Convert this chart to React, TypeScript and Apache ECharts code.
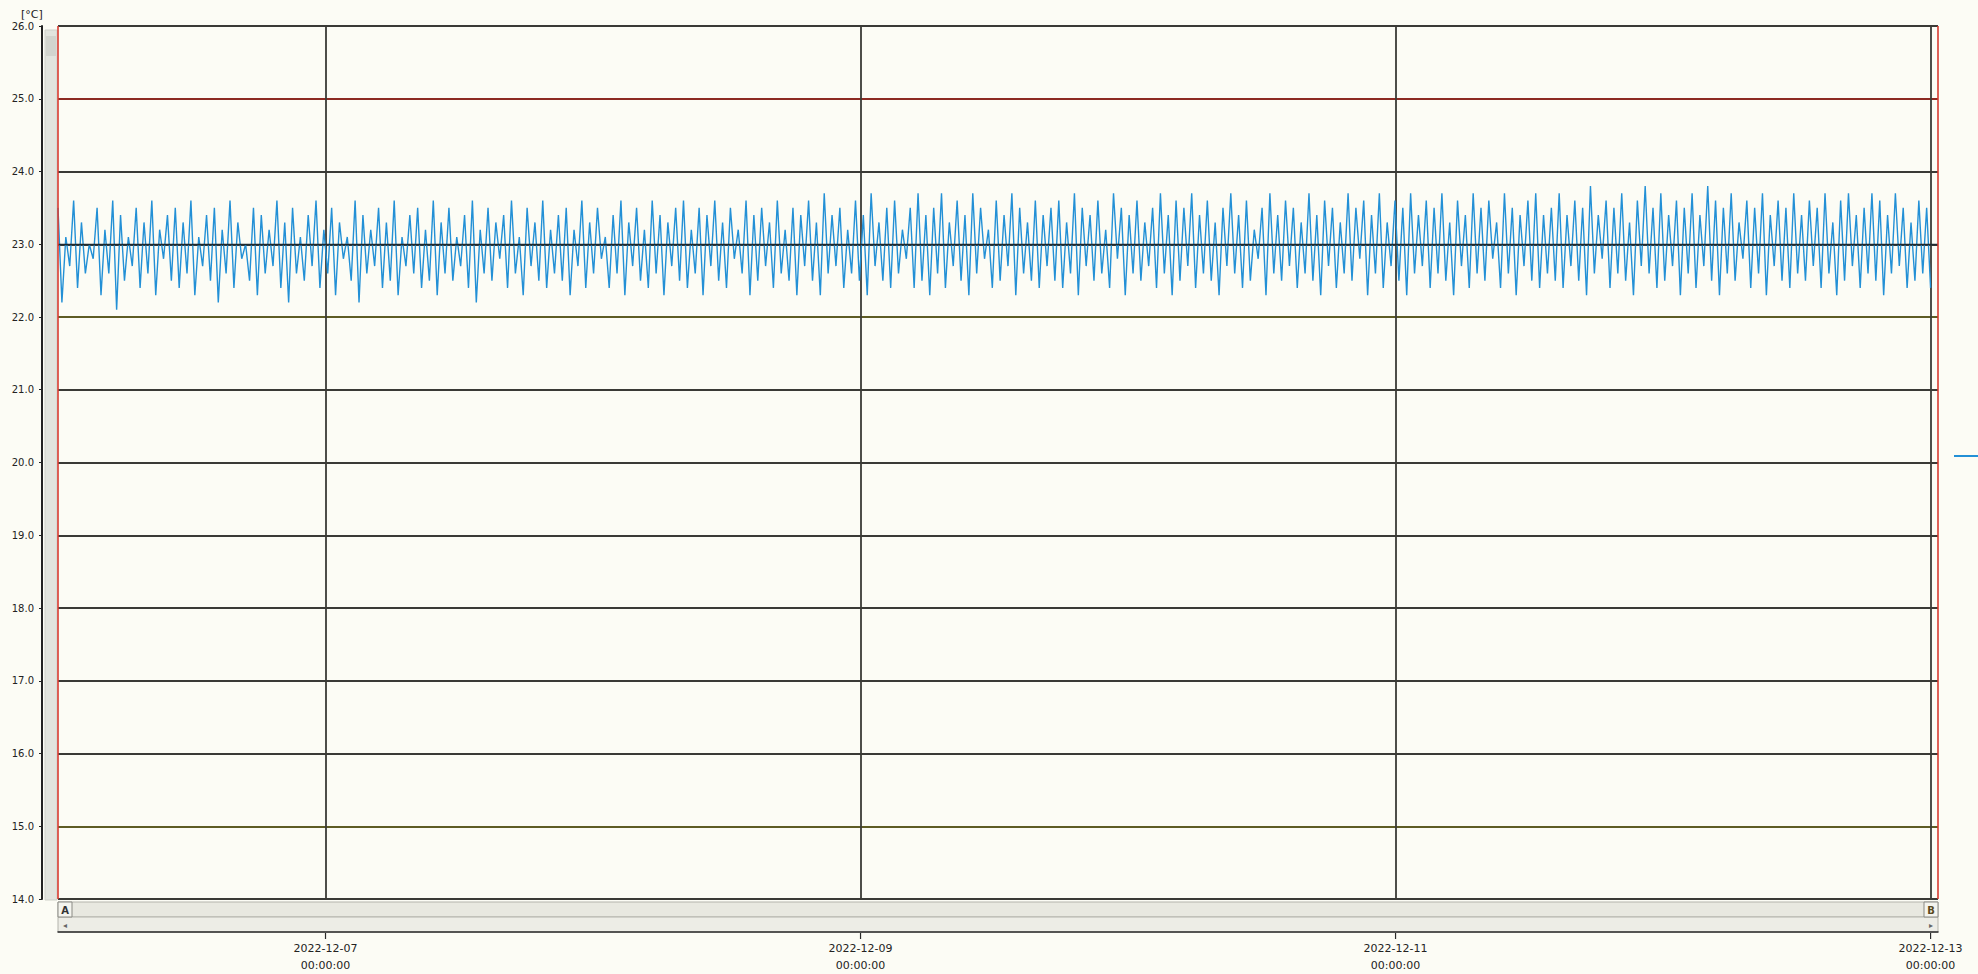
import React, { useEffect, useRef } from 'react';
import * as echarts from 'echarts';

// ---- data ----
const START = Date.UTC(2022, 11, 6, 0, 0, 0);
const AXIS_END = Date.UTC(2022, 11, 13, 0, 40, 0);
const DAY = 86400000;
const DATA_SPAN = 7 * DAY;
const labeledDays = ['2022-12-07', '2022-12-09', '2022-12-11', '2022-12-13'];
const yMin = 14;
const yMax = 26;
const unitLabel = '[°C]';
const seriesName = 'Temperature';

const highs = [
  23.5, 23.1, 23.6, 23.3, 23.0, 23.5, 23.2, 23.6, 23.4, 23.1, 23.5, 23.3, 23.6, 23.2, 23.4, 23.5,
  23.3, 23.6, 23.1, 23.4, 23.5, 23.2, 23.6, 23.3, 23.0, 23.5, 23.4, 23.2, 23.6, 23.3, 23.5, 23.1,
  23.4, 23.6, 23.2, 23.5, 23.3, 23.1, 23.6, 23.4, 23.2, 23.5, 23.3, 23.6, 23.1, 23.4, 23.5, 23.2,
  23.6, 23.3, 23.5, 23.1, 23.4, 23.6, 23.2, 23.5, 23.3, 23.4, 23.6, 23.1, 23.5, 23.3, 23.6, 23.2,
  23.4, 23.5, 23.2, 23.6, 23.3, 23.5, 23.1, 23.4, 23.6, 23.3, 23.5, 23.2, 23.6, 23.4, 23.3, 23.5,
  23.6, 23.2, 23.5, 23.4, 23.6, 23.3, 23.5, 23.2, 23.6, 23.4, 23.5, 23.3, 23.6, 23.2, 23.5, 23.4,
  23.6, 23.3, 23.7, 23.4, 23.5, 23.2, 23.6, 23.4, 23.7, 23.3, 23.5, 23.6, 23.2, 23.5, 23.7, 23.4,
  23.5, 23.7, 23.3, 23.6, 23.4, 23.7, 23.5, 23.2, 23.6, 23.4, 23.7, 23.5, 23.3, 23.6, 23.4, 23.5,
  23.6, 23.3, 23.7, 23.5, 23.4, 23.6, 23.2, 23.7, 23.5, 23.4, 23.6, 23.3, 23.5, 23.7, 23.4, 23.6,
  23.5, 23.7, 23.4, 23.6, 23.3, 23.5, 23.7, 23.4, 23.6, 23.2, 23.5, 23.7, 23.4, 23.6, 23.5, 23.3,
  23.7, 23.4, 23.6, 23.5, 23.3, 23.7, 23.5, 23.6, 23.4, 23.7, 23.3, 23.6, 23.5, 23.7, 23.4, 23.6,
  23.5, 23.7, 23.3, 23.6, 23.4, 23.7, 23.5, 23.6, 23.3, 23.7, 23.5, 23.4, 23.6, 23.7, 23.4, 23.5,
  23.7, 23.4, 23.6, 23.5, 23.8, 23.4, 23.6, 23.5, 23.7, 23.3, 23.6, 23.8, 23.5, 23.7, 23.4, 23.6,
  23.5, 23.7, 23.4, 23.8, 23.6, 23.5, 23.7, 23.3, 23.6, 23.5, 23.7, 23.4, 23.6, 23.5, 23.7, 23.4,
  23.6, 23.5, 23.7, 23.3, 23.6, 23.7, 23.4, 23.5, 23.7, 23.6, 23.4, 23.7, 23.5, 23.3, 23.6, 23.5,
];

const lows = [
  22.2, 22.7, 22.4, 22.6, 22.8, 22.3, 22.6, 22.1, 22.5, 22.7, 22.4, 22.6, 22.3, 22.8, 22.5, 22.4,
  22.6, 22.3, 22.7, 22.5, 22.2, 22.6, 22.4, 22.8, 22.5, 22.3, 22.6, 22.7, 22.4, 22.2, 22.6, 22.5,
  22.7, 22.4, 22.6, 22.3, 22.8, 22.5, 22.2, 22.6, 22.7, 22.4, 22.5, 22.3, 22.7, 22.6, 22.4, 22.5,
  22.3, 22.6, 22.5, 22.7, 22.4, 22.2, 22.6, 22.5, 22.8, 22.4, 22.6, 22.3, 22.7, 22.5, 22.4, 22.6,
  22.5, 22.3, 22.7, 22.4, 22.6, 22.8, 22.4, 22.6, 22.3, 22.7, 22.5, 22.4, 22.6, 22.3, 22.7, 22.5,
  22.4, 22.6, 22.3, 22.7, 22.5, 22.4, 22.8, 22.6, 22.3, 22.5, 22.7, 22.4, 22.6, 22.5, 22.3, 22.7,
  22.5, 22.3, 22.6, 22.7, 22.4, 22.6, 22.5, 22.3, 22.7, 22.5, 22.4, 22.6, 22.8, 22.4, 22.5, 22.3,
  22.6, 22.4, 22.7, 22.5, 22.3, 22.6, 22.8, 22.4, 22.5, 22.7, 22.3, 22.6, 22.5, 22.4, 22.7, 22.5,
  22.4, 22.6, 22.3, 22.7, 22.5, 22.6, 22.4, 22.8, 22.3, 22.6, 22.5, 22.7, 22.4, 22.6, 22.3, 22.5,
  22.7, 22.4, 22.6, 22.5, 22.3, 22.7, 22.6, 22.4, 22.5, 22.8, 22.3, 22.6, 22.5, 22.7, 22.4, 22.6,
  22.5, 22.3, 22.7, 22.4, 22.6, 22.5, 22.8, 22.3, 22.6, 22.4, 22.7, 22.5, 22.3, 22.6, 22.7, 22.4,
  22.6, 22.5, 22.3, 22.7, 22.4, 22.6, 22.5, 22.8, 22.4, 22.6, 22.3, 22.7, 22.5, 22.4, 22.6, 22.5,
  22.4, 22.7, 22.5, 22.3, 22.6, 22.8, 22.4, 22.6, 22.5, 22.3, 22.7, 22.6, 22.4, 22.5, 22.7, 22.3,
  22.6, 22.4, 22.7, 22.5, 22.3, 22.6, 22.5, 22.8, 22.4, 22.6, 22.3, 22.7, 22.5, 22.4, 22.6, 22.5,
  22.7, 22.4, 22.6, 22.3, 22.5, 22.7, 22.4, 22.6, 22.5, 22.3, 22.6, 22.7, 22.4, 22.5, 22.6, 22.4,
];

// ---- layout / style ----
const W = 1978;
const H = 974;
const G_LEFT = 58;
const G_RIGHT = 40;
const G_TOP = 26;
const G_BOTTOM = 74;
const BG = '#fcfcf5';
const GRID_DARK = '#3a3a36';
const GRID_OLIVE = '#5e5c24';
const GRID_RED = '#8c2a22';
const CURSOR_RED = '#d83a30';
const LINE_BLUE = '#2390d6';
const FONT = 'DejaVu Sans';

function dayLabel(v: number) {
  return new Date(v).toISOString().slice(0, 10);
}

export default function App() {
  const ref = useRef<HTMLDivElement>(null);

  useEffect(() => {
    document.body.style.margin = '0';
    document.body.style.background = BG;
    const chart = echarts.init(ref.current!, null, { renderer: 'svg' });

    const n = highs.length + lows.length;
    const step = DATA_SPAN / (n - 1);
    const data: [number, number][] = [];
    for (let i = 0; i < highs.length; i++) {
      data.push([START + 2 * i * step, highs[i]]);
      data.push([START + (2 * i + 1) * step, lows[i]]);
    }

    const ySplitColors: string[] = [];
    for (let v = yMin; v <= yMax; v++) {
      if (v === 25) ySplitColors.push(GRID_RED);
      else if (v === 22 || v === 15) ySplitColors.push(GRID_OLIVE);
      else ySplitColors.push(GRID_DARK);
    }

    const plotBottom = H - G_BOTTOM;
    const plotRight = W - G_RIGHT;
    const sbH = 33;

    const graphics: any[] = [
      // vertical scrollbar strip
      {
        type: 'rect',
        shape: { x: G_LEFT - 13, y: G_TOP + 4, width: 12, height: plotBottom - G_TOP - 4 },
        style: { fill: '#e2e4de', stroke: '#cfd1ca', lineWidth: 1 },
        silent: true,
      },
      {
        type: 'rect',
        shape: { x: G_LEFT - 12, y: G_TOP + 10, width: 10, height: 20 },
        style: { fill: '#d2d4ce' },
        silent: true,
      },
      // horizontal scrollbar
      {
        type: 'rect',
        shape: { x: G_LEFT, y: plotBottom + 2, width: plotRight - G_LEFT, height: 15 },
        style: { fill: '#e8e8e0', stroke: '#b4b4ac', lineWidth: 1 },
        silent: true,
      },
      {
        type: 'rect',
        shape: { x: G_LEFT, y: plotBottom + 17, width: plotRight - G_LEFT, height: 15 },
        style: { fill: '#ededE6', stroke: '#b4b4ac', lineWidth: 1 },
        silent: true,
      },
      {
        type: 'rect',
        shape: { x: G_LEFT, y: plotBottom + 2, width: 14, height: 15 },
        style: { fill: '#f4f4ee', stroke: '#8a8a84', lineWidth: 1 },
        silent: true,
      },
      {
        type: 'text',
        x: G_LEFT + 7, y: plotBottom + 10,
        style: { text: 'A', font: 'bold 10px ' + FONT, fill: '#333', align: 'center', verticalAlign: 'middle' },
        silent: true,
      },
      {
        type: 'text',
        x: G_LEFT + 7, y: plotBottom + 25,
        style: { text: '◂', font: '8px ' + FONT, fill: '#666', align: 'center', verticalAlign: 'middle' },
        silent: true,
      },
      {
        type: 'rect',
        shape: { x: plotRight - 14, y: plotBottom + 2, width: 14, height: 15 },
        style: { fill: '#f4f4ee', stroke: '#8a8a84', lineWidth: 1 },
        silent: true,
      },
      {
        type: 'text',
        x: plotRight - 7, y: plotBottom + 10,
        style: { text: 'B', font: 'bold 10px ' + FONT, fill: '#5a4a20', align: 'center', verticalAlign: 'middle' },
        silent: true,
      },
      {
        type: 'text',
        x: plotRight - 7, y: plotBottom + 25,
        style: { text: '▸', font: '8px ' + FONT, fill: '#666', align: 'center', verticalAlign: 'middle' },
        silent: true,
      },
      // unit label
      {
        type: 'text',
        x: 21, y: 14,
        style: { text: unitLabel, font: '11px ' + FONT, fill: '#222', verticalAlign: 'middle' },
        silent: true,
      },
      // series indicator at right
      {
        type: 'line',
        shape: { x1: W - 24, y1: 456, x2: W, y2: 456 },
        style: { stroke: LINE_BLUE, lineWidth: 2 },
        silent: true,
      },
    ];

    const option: any = {
      animation: false,
      backgroundColor: BG,
      grid: { left: G_LEFT, right: G_RIGHT, top: G_TOP, bottom: G_BOTTOM },
      xAxis: {
        type: 'value',
        min: START,
        max: AXIS_END,
        interval: DAY,
        offset: sbH,
        axisLine: { show: true, lineStyle: { color: '#2a2a2a', width: 1.5 } },
        axisTick: { show: false },
        axisLabel: {
          margin: 8,
          fontFamily: FONT,
          fontSize: 11,
          lineHeight: 17,
          color: '#222',
          formatter: (v: number) => {
            const d = dayLabel(v);
            return labeledDays.indexOf(d) >= 0 ? d + '\n00:00:00' : '';
          },
        },
        splitLine: {
          show: true,
          lineStyle: { color: ['rgba(0,0,0,0)', GRID_DARK], width: 1.8 },
        },
      },
      yAxis: {
        type: 'value',
        min: yMin,
        max: yMax,
        interval: 1,
        offset: 16,
        axisLine: { show: true, lineStyle: { color: '#222', width: 2 } },
        axisTick: { show: true, length: 3, lineStyle: { color: '#222' } },
        axisLabel: {
          margin: 8,
          fontFamily: FONT,
          fontSize: 10,
          color: '#222',
          formatter: (v: number) => v.toFixed(1),
        },
        splitLine: { show: true, lineStyle: { color: ySplitColors, width: 1.8 } },
      },
      series: [
        {
          name: seriesName,
          type: 'line',
          data,
          showSymbol: false,
          symbol: 'none',
          lineStyle: { color: LINE_BLUE, width: 1.4 },
          z: 2,
          markLine: {
            silent: true,
            symbol: 'none',
            label: { show: false },
            data: [
              { yAxis: 23, lineStyle: { color: '#1e2a30', width: 1.4, type: 'solid' } },
              { xAxis: START, lineStyle: { color: CURSOR_RED, width: 1.6, type: 'solid' } },
              { xAxis: AXIS_END - 60000, lineStyle: { color: CURSOR_RED, width: 1.6, type: 'solid' } },
            ],
          },
        },
      ],
      graphic: graphics,
    };

    chart.setOption(option);

    // axis ticks only at labeled days, positioned through the axis scale
    const tickY = plotBottom + sbH;
    const ticks = labeledDays.map((d) => {
      const t = Date.parse(d + 'T00:00:00Z');
      const px = chart.convertToPixel({ xAxisIndex: 0 }, t) as number;
      return {
        type: 'line',
        shape: { x1: px, y1: tickY, x2: px, y2: tickY + 6 },
        style: { stroke: '#2a2a2a', lineWidth: 1.2 },
        silent: true,
      };
    });
    chart.setOption({ graphic: graphics.concat(ticks) });

    return () => chart.dispose();
  }, []);

  return <div ref={ref} style={{ width: W, height: H }} />;
}
